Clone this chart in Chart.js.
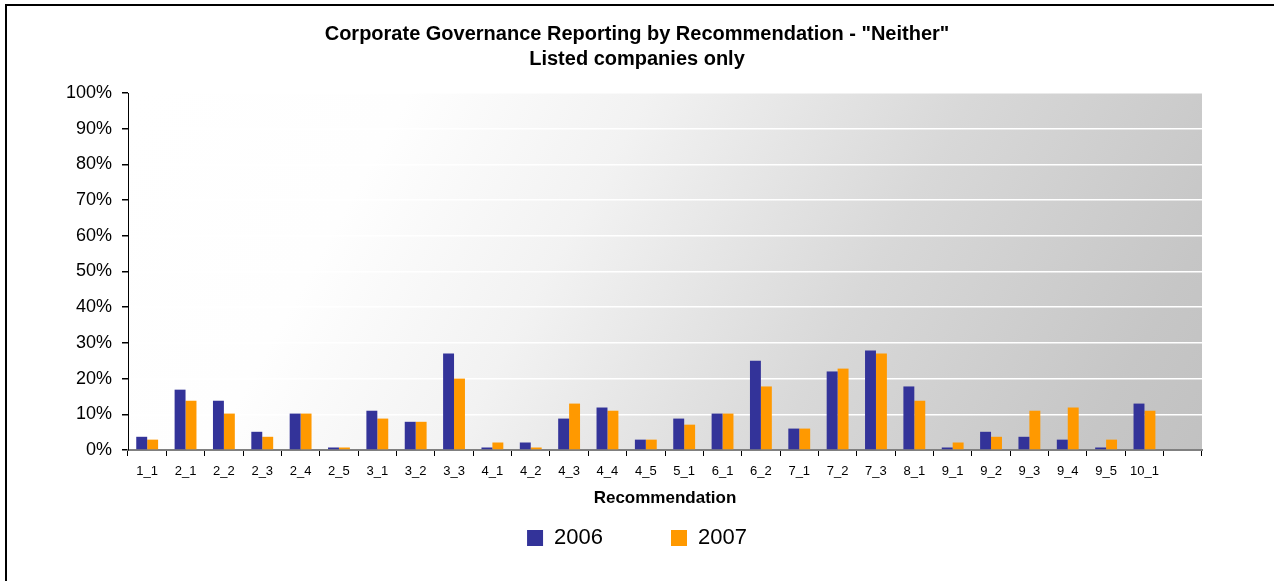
<!DOCTYPE html>
<html>
<head>
<meta charset="utf-8">
<script src="https://cdn.jsdelivr.net/npm/chart.js@4/dist/chart.umd.min.js"></script>
<style>
  html, body { margin: 0; padding: 0; background: #ffffff; }
  #wrap { position: relative; width: 1274px; height: 581px; }
  #frame { position: absolute; left: 5px; top: 4px; right: 0; bottom: 0;
           border-left: 2px solid #000; border-top: 2px solid #000; pointer-events: none; }
  canvas { position: absolute; left: 0; top: 0; }
</style>
</head>
<body>
<div id="wrap">
  <canvas id="c" width="1274" height="581"></canvas>
  <div id="frame"></div>
</div>
<script>
const categories = ["1_1","2_1","2_2","2_3","2_4","2_5","3_1","3_2","3_3","4_1","4_2","4_3","4_4","4_5","5_1","6_1","6_2","7_1","7_2","7_3","8_1","9_1","9_2","9_3","9_4","9_5","10_1",""];
const values2006 = [3.7,16.9,13.8,5.1,10.2,0.7,11.0,7.9,27.0,0.7,2.1,8.8,11.9,2.9,8.8,10.2,25.0,6.0,22.0,27.9,17.8,0.7,5.1,3.7,2.9,0.7,13.0,null];
const values2007 = [2.9,13.8,10.2,3.7,10.2,0.7,8.8,7.9,20.0,2.1,0.7,13.0,11.0,2.9,7.1,10.2,17.8,6.0,22.8,27.0,13.8,2.1,3.7,11.0,11.9,2.9,11.0,null];
const seriesNames = ["2006","2007"];
const titleLines = ['Corporate Governance Reporting by Recommendation - "Neither"', 'Listed companies only'];
const xAxisTitle = "Recommendation";

const FONT = "'Liberation Sans', Arial, sans-serif";

const plotBg = {
  id: 'plotBg',
  beforeDraw(chart) {
    const a = chart.chartArea;
    const ctx = chart.ctx;
    const w = a.right - a.left;
    const g = ctx.createLinearGradient(a.left, a.top, a.right, a.top + 600);
    g.addColorStop(0, '#ffffff');
    g.addColorStop(0.2, '#fefefe');
    g.addColorStop(0.37, '#f2f2f2');
    g.addColorStop(0.6, '#d8d8d8');
    g.addColorStop(0.82, '#c6c6c6');
    g.addColorStop(1, '#bcbcbc');
    ctx.save();
    ctx.fillStyle = g;
    ctx.fillRect(a.left, a.top, w, a.bottom - a.top);
    ctx.restore();
  }
};

new Chart(document.getElementById('c'), {
  type: 'bar',
  data: {
    labels: categories,
    datasets: [
      { label: seriesNames[0], data: values2006, backgroundColor: '#333399', borderWidth: 0,
        categoryPercentage: 0.57, barPercentage: 1.0 },
      { label: seriesNames[1], data: values2007, backgroundColor: '#FF9900', borderWidth: 0,
        categoryPercentage: 0.57, barPercentage: 1.0 }
    ]
  },
  options: {
    responsive: false,
    animation: false,
    devicePixelRatio: 1,
    layout: { padding: { left: 0, right: 0, top: 0, bottom: 22 } },
    plugins: {
      title: {
        display: true,
        text: titleLines,
        color: '#000',
        font: { family: FONT, size: 20, weight: 'bold', lineHeight: 1.25 },
        padding: { top: 22, bottom: 21 }
      },
      legend: {
        display: true,
        position: 'bottom',
        labels: {
          color: '#000',
          font: { family: FONT, size: 22 },
          boxWidth: 16,
          boxHeight: 16,
          padding: 13,
          generateLabels(chart) {
            const items = Chart.defaults.plugins.legend.labels.generateLabels(chart);
            items.forEach((it, i) => { if (i === 0) it.text = it.text + '         '; it.lineWidth = 0; });
            return items;
          }
        }
      },
      tooltip: { enabled: false }
    },
    scales: {
      x: {
        offset: true,
        grid: { display: true, drawOnChartArea: false, drawTicks: true, tickLength: 6,
                tickColor: '#000', offset: true },
        border: { display: true, color: '#808080', width: 2 },
        ticks: { color: '#000', font: { family: FONT, size: 13 }, padding: 8, autoSkip: false, maxRotation: 0 },
        title: { display: true, text: xAxisTitle, color: '#000',
                 font: { family: FONT, size: 17, weight: 'bold' }, padding: { top: 1, bottom: 5 } }
      },
      y: {
        min: 0, max: 100,
        afterFit(s) { s.width = 128; },
        grid: { color: '#ffffff', lineWidth: 1.5, drawTicks: true, tickLength: 6, tickColor: '#000' },
        border: { display: true, color: '#000', width: 1 },
        ticks: { stepSize: 10, color: '#000', font: { family: FONT, size: 18 }, padding: 10,
                 callback: v => v + '%' }
      },
      yRight: {
        position: 'right',
        display: true,
        afterFit(s) { s.width = 72; },
        grid: { display: false, drawOnChartArea: false },
        border: { display: false },
        ticks: { display: false }
      }
    }
  },
  plugins: [plotBg]
});
</script>
</body>
</html>
